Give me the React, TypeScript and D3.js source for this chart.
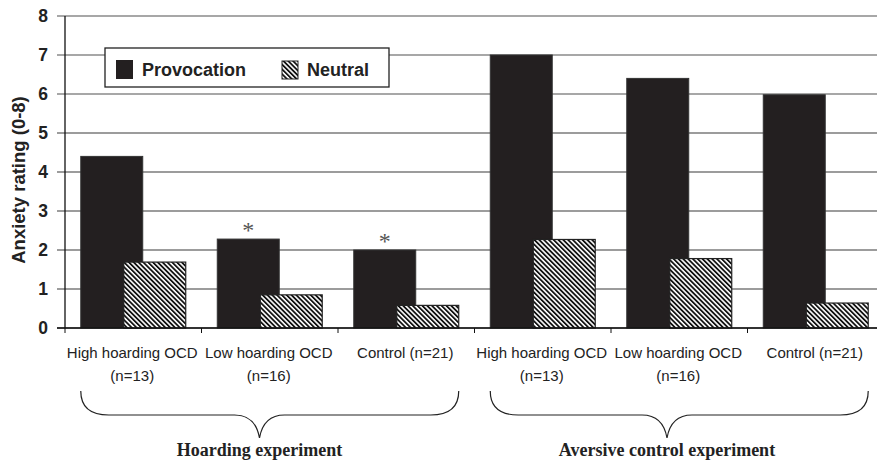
import React from "react";
import * as d3 from "d3";

const categories = [
  "High hoarding OCD|(n=13)",
  "Low hoarding OCD|(n=16)",
  "Control (n=21)",
  "High hoarding OCD |(n=13)",
  "Low hoarding OCD |(n=16)",
  "Control (n=21) ",
];
const provocation = [4.4, 2.28, 2.0, 7.0, 6.4, 5.98];
const neutral = [1.69, 0.85, 0.58, 2.27, 1.78, 0.64];
const significant = [false, true, true, false, false, false];
const yTicks = [0, 1, 2, 3, 4, 5, 6, 7, 8];
const groups = [
  { label: "Hoarding experiment", from: 0, to: 2 },
  { label: "Aversive control experiment", from: 3, to: 5 },
];

const W = 877;
const H = 461;
const left = 65;
const right = 884;
const top = 16;
const bottom = 328;

export default function App() {
  const x = d3.scaleBand<string>().domain(categories).range([left, right]).padding(0);
  const y = d3.scaleLinear().domain([0, 8]).range([bottom, top]);
  const bw = x.bandwidth();
  const barW = bw * 0.454;
  const step = bw * 0.315;
  const start = (c: string) => (x(c) as number) + bw / 2 - (barW + step) / 2;
  const arial = "Arial, 'Liberation Sans', Helvetica, sans-serif";
  const serif = "'Times New Roman', 'Liberation Serif', serif";
  const dark = "#231f20";

  const bracePath = (x0: number, x1: number, tip: number) => {
    const yT = 391, yM = 415, yTip = 438;
    return `M${x0},${yT} Q${x0},${yM} ${x0 + 28},${yM} L${tip - 25},${yM} Q${tip - 4},${yM} ${tip},${yTip} Q${tip + 4},${yM} ${tip + 25},${yM} L${x1 - 28},${yM} Q${x1},${yM} ${x1},${yT}`;
  };

  return (
    <svg width={W} height={H} style={{ position: "absolute", left: 0, top: 0, background: "#fff" }}>
      <defs>
        <pattern id="hatch" width="3.4" height="3.4" patternUnits="userSpaceOnUse" patternTransform="rotate(-45)">
          <rect width="3.4" height="3.4" fill="#fff" />
          <rect width="1.8" height="3.4" fill="#111" />
        </pattern>
      </defs>
      {/* gridlines */}
      {yTicks.map((t) => (
        <line key={t} x1={57} x2={W} y1={y(t)} y2={y(t)} stroke={t >= 6 ? "#8a8a8a" : "#3a3a3a"} strokeWidth={t >= 6 ? 1.5 : 1.2} />
      ))}
      {/* y tick labels */}
      {yTicks.map((t) => (
        <text key={"l" + t} x={48} y={y(t)} dy="0.36em" textAnchor="end" fontFamily={arial} fontWeight="bold" fontSize={17.5} fill="#222">
          {t}
        </text>
      ))}
      {/* bars */}
      {categories.map((c, i) => (
        <rect key={"p" + i} x={start(c)} y={y(provocation[i])} width={barW} height={bottom - y(provocation[i])} fill={dark} stroke="#333" strokeWidth={1} />
      ))}
      {categories.map((c, i) => (
        <rect key={"n" + i} x={start(c) + step} y={y(neutral[i])} width={barW} height={bottom - y(neutral[i])} fill="url(#hatch)" stroke="#222" strokeWidth={1.2} />
      ))}
      {categories.map((c, i) =>
        significant[i] ? (
          <text key={"s" + i} x={start(c) + barW / 2} y={y(provocation[i]) - 1} textAnchor="middle" fontFamily={serif} fontSize={24} fill="#555">
            *
          </text>
        ) : null
      )}
      {/* axes */}
      <line x1={left} x2={left} y1={top} y2={bottom} stroke="#111" strokeWidth={1.3} />
      <line x1={57} x2={W} y1={bottom} y2={bottom} stroke="#111" strokeWidth={1.3} />
      {categories.map((c, i) => (
        <line key={"t" + i} x1={x(c) as number} x2={x(c) as number} y1={bottom} y2={bottom + 5} stroke="#111" strokeWidth={1} />
      ))}
      {/* category labels */}
      {categories.map((c, i) => {
        const parts = c.trim().split("|");
        const cx = (x(c) as number) + bw / 2;
        return (
          <g key={"c" + i} fontFamily={arial} fontSize={15} fill="#222" textAnchor="middle">
            <text x={cx - 1} y={358}>{parts[0].trim()}</text>
            {parts[1] && <text x={cx - 1} y={381}>{parts[1]}</text>}
          </g>
        );
      })}
      {/* legend */}
      <rect x={105} y={48} width={284} height={39} fill="#fff" stroke="#222" strokeWidth={1.3} />
      <rect x={116} y={60} width={17} height={19} fill={dark} />
      <text x={142} y={76} fontFamily={arial} fontWeight="bold" fontSize={18} fill="#222">Provocation</text>
      <rect x={282} y={61} width={16} height={18} fill="url(#hatch)" stroke="#222" strokeWidth={1} />
      <text x={307} y={76} fontFamily={arial} fontWeight="bold" fontSize={18} fill="#222">Neutral</text>
      {/* y axis title */}
      <text transform={`translate(25,180) rotate(-90)`} textAnchor="middle" fontFamily={arial} fontWeight="bold" fontSize={18.5} fill="#222">
        Anxiety rating (0-8)
      </text>
      {/* braces */}
      {groups.map((g, i) => {
        const c0 = categories[g.from];
        const c1 = categories[g.to];
        const x0 = start(c0);
        const x1 = start(c1) + step + barW;
        const tip = i === 0 ? 259.5 : 667;
        return (
          <g key={"g" + i}>
            <path d={bracePath(x0, x1, tip)} fill="none" stroke="#222" strokeWidth={1.2} />
            <text x={tip} y={456} textAnchor="middle" fontFamily={serif} fontWeight="bold" fontSize={18} fill="#222">
              {g.label}
            </text>
          </g>
        );
      })}
    </svg>
  );
}
